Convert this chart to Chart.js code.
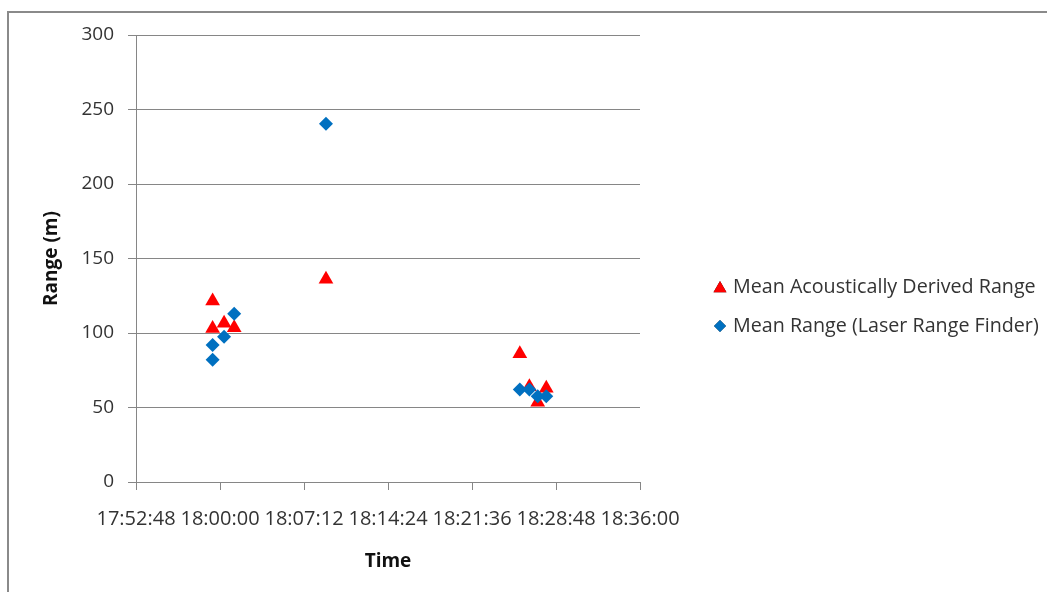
<!DOCTYPE html>
<html>
<head>
<meta charset="utf-8">
<script src="https://cdn.jsdelivr.net/npm/chart.js@4/dist/chart.umd.min.js"></script>
<style>
html,body{margin:0;padding:0;background:#fff;}
#wrap{width:1047px;height:592px;position:relative;}
</style>
</head>
<body>
<div id="wrap"><canvas id="c" width="1047" height="592"></canvas></div>
<script>
// ---- data ----
const times = ["17:59:22","17:59:22","18:00:21","18:01:13","18:09:05","18:25:42","18:26:31","18:27:14","18:27:58"];
const acousticRange = [121.5, 103, 106.5, 103.5, 136, 86, 64, 53.5, 63];
const laserTimes = ["17:59:22","17:59:22","18:00:21","18:01:13","18:09:05","18:25:42","18:26:31","18:27:14","18:27:58"];
const laserRange = [92, 82, 97.5, 113, 240.5, 62, 62, 57.5, 57.5];
const seriesNames = ["Mean Acoustically Derived Range", "Mean Range (Laser Range Finder)"];
const xStart = "17:52:48", xEnd = "18:36:00", xStep = "00:07:12";
const yMin = 0, yMax = 300, yStep = 50;
const xTitle = "Time", yTitle = "Range (m)";

function toSec(s){const p=s.split(":").map(Number);return p[0]*3600+p[1]*60+p[2];}
function fmt(v){const h=Math.floor(v/3600),m=Math.floor((v%3600)/60),s=Math.round(v%60);
  const z=n=>String(n).padStart(2,"0");return z(h)+":"+z(m)+":"+z(s);}

const RED="#FF0000", BLUE="#0070C0", GRID="#868686", TXT="#333333";
const FONT="'Open Sans'";

const legendPlugin={
  id:"customLegend",
  beforeDraw(chart){
    const ctx=chart.ctx;ctx.save();
    ctx.strokeStyle="#8a8a8a";ctx.lineWidth=2;
    ctx.strokeRect(8,12,1200,800);
    ctx.restore();
  },
  afterDraw(chart){
    const ctx=chart.ctx;ctx.save();
    const items=[{t:seriesNames[0],c:RED,s:"triangle",r:7.5,y:287},{t:seriesNames[1],c:BLUE,s:"rectRot",r:6,y:326}];
    ctx.font="19.7px "+FONT;ctx.textBaseline="middle";ctx.textAlign="left";
    items.forEach(it=>{
      Chart.helpers.drawPoint(ctx,{pointStyle:it.s,radius:it.r,rotation:0,borderWidth:0},720,it.y+(it.s==="triangle"?1.5:0));
      ctx.fillStyle=it.c;ctx.fill();
      ctx.fillStyle=TXT;ctx.fillText(it.t,733,it.y);
    });
    ctx.restore();
  }
};

new Chart(document.getElementById("c"),{
  type:"scatter",
  data:{datasets:[
    {label:seriesNames[0],data:times.map((t,i)=>({x:toSec(t),y:acousticRange[i]})),
     pointStyle:"triangle",pointRadius:8.5,pointHoverRadius:8.5,backgroundColor:RED,borderColor:RED,borderWidth:0,order:2},
    {label:seriesNames[1],data:laserTimes.map((t,i)=>({x:toSec(t),y:laserRange[i]})),
     pointStyle:"rectRot",pointRadius:7,pointHoverRadius:7,backgroundColor:BLUE,borderColor:BLUE,borderWidth:0,order:1}
  ]},
  options:{
    responsive:false,animation:false,
    layout:{padding:{left:0,top:35,right:407,bottom:0}},
    plugins:{legend:{display:false},tooltip:{enabled:false}},
    scales:{
      x:{type:"linear",min:toSec(xStart),max:toSec(xEnd),
        afterFit(s){s.height=110;},
        ticks:{stepSize:toSec(xStep),autoSkip:false,maxRotation:0,minRotation:0,padding:17,
          callback:v=>fmt(v),font:{family:FONT,size:20},color:TXT},
        grid:{drawOnChartArea:false,drawTicks:true,tickLength:8,color:GRID,lineWidth:1},
        border:{display:true,color:GRID,width:1},
        title:{display:true,text:xTitle,font:{family:FONT,size:19,weight:"bold"},color:"#111",padding:{top:19,bottom:19}}
      },
      y:{min:yMin,max:yMax,
        afterFit(s){s.width=136;},
        ticks:{stepSize:yStep,padding:14,font:{family:FONT,size:19},color:TXT},
        grid:{drawOnChartArea:true,drawTicks:true,tickLength:8,color:GRID,lineWidth:1},
        border:{display:true,color:GRID,width:1},
        title:{display:true,text:yTitle,font:{family:FONT,size:19,weight:"bold"},color:"#111",padding:{top:40,bottom:0}}
      }
    }
  },
  plugins:[legendPlugin]
});
</script>
</body>
</html>
